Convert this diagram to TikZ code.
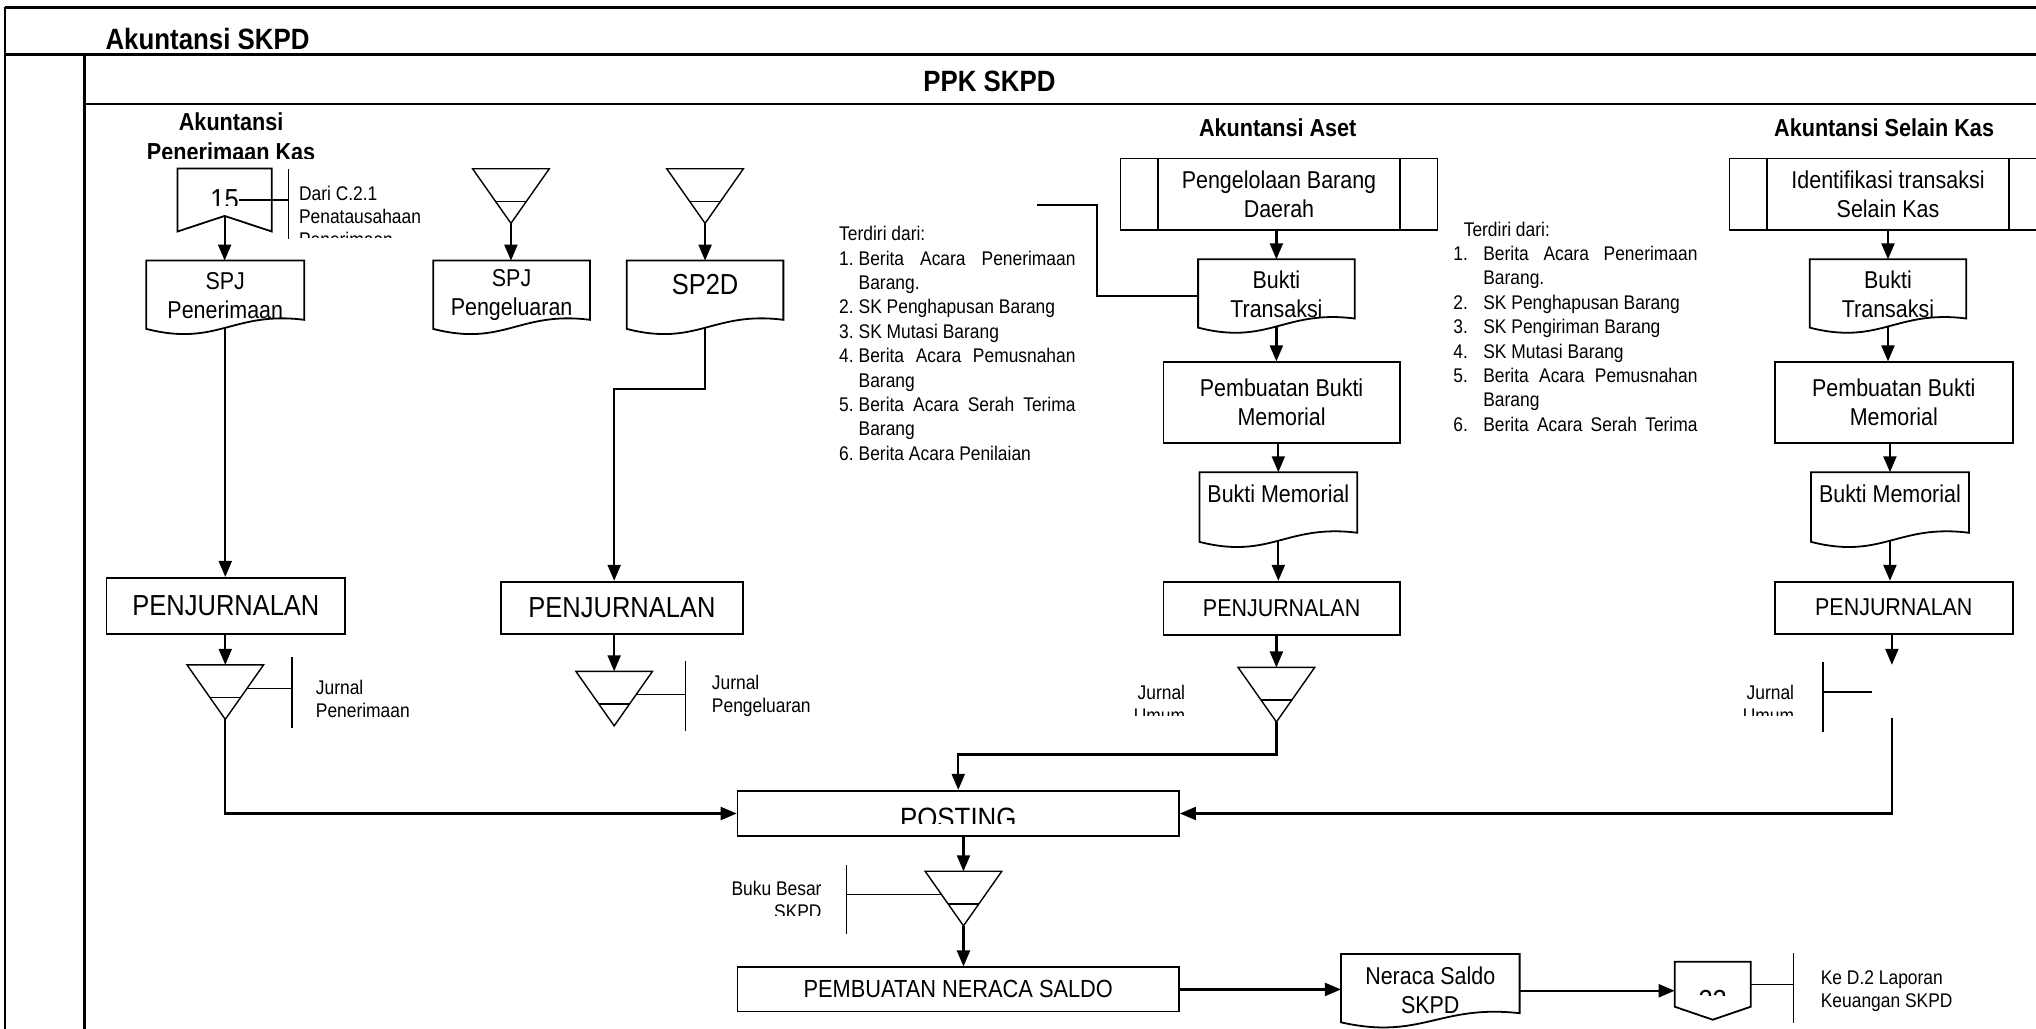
\documentclass[tikz,border=0pt]{standalone}
\usepackage{fontspec}
\setmainfont[FakeStretch=0.88]{Liberation Sans}
\usetikzlibrary{arrows.meta,calc,fit}

\newcommand\hurufjudul{\fontsize{14.7}{17}\selectfont\bfseries}
\newcommand\hurufkepala{\fontsize{12.3}{15}\selectfont\bfseries}
\newcommand\hurufkotak{\fontsize{12.2}{14.5}\selectfont}
\newcommand\hurufbesar{\fontsize{14.5}{17}\selectfont}
\newcommand\hurufkecil{\fontsize{9.9}{11.5}\selectfont}
\newcommand\hurufdaftar{\fontsize{9.9}{12.2}\selectfont}
\newcommand\butir[2]{\makebox[#1][l]{#2}}
\newcommand\rata[2]{\makebox[#1][s]{#2}}

\newcommand\dokumen[3][4]{%
  \draw[bentuk] (#2.north west) -- (#2.north east) -- (#2.south east)
    .. controls ($(#2.south west)!0.55!(#2.south east)+(0,-7)$)
    and ($(#2.south west)!0.45!(#2.south east)+(0,21)$) .. ($(#2.south west)+(0,7)$) -- cycle;
  \coordinate (#2-b) at ($(#2.south)+(0,6)$);
  \begin{scope}
    \clip (#2.north west) rectangle (#2.south east);
    \node (#2-t) at ($(#2.center)+(0,#1)$) {#3};
  \end{scope}}

\newcommand\subproses[1]{%
  \draw[bentuk] ($(#1.north west)+(29.5,0)$) -- ($(#1.south west)+(29.5,0)$);
  \draw[bentuk] ($(#1.north east)+(-29.5,0)$) -- ($(#1.south east)+(-29.5,0)$);}

\newcommand\simpan[3]{%
  \coordinate (#1) at (#2,#3);
  \coordinate (#1-apex) at (#2,#3+42);
  \coordinate (#1-l) at (#2-29.5,#3);
  \coordinate (#1-r) at (#2+29.5,#3);
  \coordinate (#1-el) at ($(#1-l)!0.43!(#1-apex)$);
  \coordinate (#1-er) at ($(#1-r)!0.43!(#1-apex)$);
  \draw[segitiga] (#1-l) -- (#1-r) -- (#1-apex) -- cycle;
  \draw[segitiga] ($(#1-l)!0.6!(#1-apex)$) -- ($(#1-r)!0.6!(#1-apex)$);}

\begin{document}
\begin{tikzpicture}[x=0.65pt, y=-0.65pt,
  every node/.style = {inner sep=0pt, align=center, font=\hurufkotak},
  kotak/.style = {draw, line width=0.9pt},
  ukuran/.style 2 args = {minimum width=#1*0.65pt, minimum height=#2*0.65pt},
  bentuk/.style = {line width=0.9pt},
  segitiga/.style = {line width=0.7pt},
  garis/.style = {line width=1.1pt},
  panah/.style = {garis, -{Triangle[length=8pt,width=6.5pt]}},
  tipis/.style = {line width=0.7pt},
  bingkai/.style = {line width=1.3pt},
  judul/.style = {font=\hurufjudul},
  kepala/.style = {font=\hurufkepala},
  besar/.style = {font=\hurufbesar},
  kecil/.style = {font=\hurufkecil},
  daftar/.style = {font=\hurufdaftar, align=left}]

  \useasboundingbox (0,0) rectangle (1568,792);
  \clip (0,0) rectangle (1568,792);

  \draw[bingkai] (4,5.6) -- (1580,5.6);
  \draw[bingkai] (4,5.6) -- (4,800);
  \draw[bingkai] (4,42) -- (1580,42);
  \draw[bingkai] (65,42) -- (65,800);
  \draw[bingkai] (65,80) -- (1580,80);
  \node[judul, anchor=west] (tskpd) at (81,30) {Akuntansi SKPD};
  \node[judul] (tppk) at (762,63) {PPK SKPD};

  \begin{scope}
    \clip (100,82) rectangle (260,122);
    \node[kepala] (hkas) at (178,105.5) {Akuntansi\\Penerimaan Kas};
  \end{scope}
  \node[kepala] (haset) at (984,98.5) {Akuntansi Aset};
  \node[kepala] (hlain) at (1451,98.5) {Akuntansi Selain Kas};

  \node[fit={(137,130) (209,178)}] (c15) {};
  \draw[bentuk] (c15.north west) -- (c15.north east) -- (c15.south east)
    -- ($(c15.south)+(0,-12)$) coordinate (c15-n) -- (c15.south west) -- cycle;
  \begin{scope}
    \clip (137,130) rectangle (209,158);
    \node[besar, anchor=base] (t15) at (173,161.5) {15};
  \end{scope}
  \coordinate (b15) at (222,154);
  \draw[tipis] (222,130) -- (222,184);
  \draw[tipis] (t15.east |- b15) -- (b15);
  \begin{scope}
    \clip (226,128) rectangle (340,183);
    \node[kecil, anchor=west, align=left] (tdari) at (230,167) {Dari C.2.1\\Penatausahaan\\Penerimaan};
  \end{scope}

  \node[fit={(113,201) (234,246)}] (spj1) {};
  \dokumen{spj1}{SPJ\\Penerimaan}
  \node[kotak, besar, ukuran={184}{43}] (pj1) at (174,466.5) {PENJURNALAN};
  \simpan{jt1}{173.5}{512}
  \coordinate (bjt1) at (225,506);
  \draw[tipis] (bjt1) -- ++(0,55);
  \draw[tipis] (jt1-er) -- (jt1-er -| bjt1);
  \node[kecil, anchor=west, align=left] (tj1) at (243,538) {Jurnal\\Penerimaan};

  \simpan{jt2a}{393.5}{130}
  \simpan{jt2b}{543}{130}
  \node[fit={(334,201) (454,246)}] (spj2) {};
  \dokumen{spj2}{SPJ\\Pengeluaran}
  \node[fit={(483,201) (603,246)}] (sp2d) {};
  \dokumen[-4.5]{sp2d}{\hurufbesar SP2D}
  \node[kotak, besar, ukuran={186}{40}] (pj2) at (479,468) {PENJURNALAN};
  \simpan{jt2c}{473}{517}
  \coordinate (bjt2) at (528,509);
  \draw[tipis] (bjt2) -- ++(0,54);
  \draw[tipis] (jt2c-er) -- (jt2c-er -| bjt2);
  \node[kecil, anchor=west, align=left] (tj2) at (548,536) {Jurnal\\Pengeluaran};

  \node[daftar, anchor=west] (ket1) at (646,264.5) {%
    Terdiri dari:\\
    \rata{118.3pt}{\butir{9.75pt}{1.}Berita Acara Penerimaan}\\
    \hspace*{9.75pt}Barang.\\
    \butir{9.75pt}{2.}SK Penghapusan Barang\\
    \butir{9.75pt}{3.}SK Mutasi Barang\\
    \rata{118.3pt}{\butir{9.75pt}{4.}Berita Acara Pemusnahan}\\
    \hspace*{9.75pt}Barang\\
    \rata{118.3pt}{\butir{9.75pt}{5.}Berita Acara Serah Terima}\\
    \hspace*{9.75pt}Barang\\
    \butir{9.75pt}{6.}Berita Acara Penilaian};
  \node[daftar, anchor=west] (ket2) at (1119,251.5) {%
    \hspace*{5.2pt}Terdiri dari:\\
    \rata{122.2pt}{\butir{15pt}{1.}Berita Acara Penerimaan}\\
    \hspace*{15pt}Barang.\\
    \butir{15pt}{2.}SK Penghapusan Barang\\
    \butir{15pt}{3.}SK Pengiriman Barang\\
    \butir{15pt}{4.}SK Mutasi Barang\\
    \rata{122.2pt}{\butir{15pt}{5.}Berita Acara Pemusnahan}\\
    \hspace*{15pt}Barang\\
    \rata{122.2pt}{\butir{15pt}{6.}Berita Acara Serah Terima}};

  \node[kotak, ukuran={244}{55}] (pgb) at (985,149.5) {Pengelolaan Barang\\Daerah};
  \subproses{pgb}
  \node[fit={(923,200) (1043,245)}] (bt3) {};
  \dokumen{bt3}{Bukti\\Transaksi}
  \node[kotak, ukuran={182}{62}] (pbm3) at (987,310) {Pembuatan Bukti\\Memorial};
  \node[fit={(924,364) (1045,410)}] (bm3) {};
  \dokumen[-7]{bm3}{Bukti Memorial}
  \node[kotak, ukuran={182}{41}] (pj3) at (987,468.5) {PENJURNALAN};
  \simpan{jt3}{983}{514}
  \begin{scope}
    \clip (850,515) rectangle (930,551);
    \node[kecil, anchor=east, align=right] (tj3) at (913,542) {Jurnal\\Umum};
  \end{scope}
  \coordinate (lst1) at (799,158);
  \coordinate (lk1) at (845,228);

  \node[kotak, ukuran={244}{55}] (isk) at (1454,149.5) {Identifikasi transaksi\\Selain Kas};
  \subproses{isk}
  \node[fit={(1394,200) (1514,245)}] (bt4) {};
  \dokumen{bt4}{Bukti\\Transaksi}
  \node[kotak, ukuran={183}{62}] (pbm4) at (1458.5,310) {Pembuatan Bukti\\Memorial};
  \node[fit={(1395,364) (1516,410)}] (bm4) {};
  \dokumen[-7]{bm4}{Bukti Memorial}
  \node[kotak, ukuran={183}{40}] (pj4) at (1458.5,468) {PENJURNALAN};
  \coordinate (ju4) at (1457,512);
  \coordinate (ju4b) at (1457,553);
  \coordinate (ju4e) at (1442,533);
  \coordinate (bju4) at (1404,510);
  \draw[tipis] (bju4) -- ++(0,54);
  \draw[tipis] (ju4e) -- (ju4e -| bju4);
  \begin{scope}
    \clip (1320,515) rectangle (1400,551);
    \node[kecil, anchor=east, align=right] (tj4) at (1382,542) {Jurnal\\Umum};
  \end{scope}

  \node[kotak, fit={(568,609) (908,644)}] (post) {};
  \begin{scope}
    \clip (568,609) rectangle (908,634);
    \node[font=\fontsize{14.7}{17}\selectfont, anchor=base] (post-t) at (738,638) {POSTING};
  \end{scope}
  \simpan{jtp}{742}{671}
  \coordinate (bjtp) at (652,666);
  \draw[tipis] (bjtp) -- ++(0,53);
  \draw[tipis] (jtp-el) -- (jtp-el -| bjtp);
  \begin{scope}
    \clip (560,660) rectangle (645,705);
    \node[kecil, anchor=east, align=right] (tbb) at (633,693) {Buku Besar\\SKPD};
  \end{scope}
  \node[kotak, ukuran={340}{34}, font=\fontsize{12.4}{15}\selectfont] (pns) at (738,762) {PEMBUATAN NERACA SALDO};
  \node[fit={(1033,735) (1170,780)}] (ns) {};
  \dokumen[5.5]{ns}{Neraca Saldo\\SKPD}
  \node[fit={(1290,741) (1348,775)}] (c22) {};
  \draw[bentuk] (c22.north west) -- (c22.north east) -- (c22.south east)
    -- ($(c22.south)+(0,10)$) -- (c22.south west) -- cycle;
  \begin{scope}
    \clip (1290,741) rectangle (1348,767);
    \node[besar, anchor=base] (t22) at (1319,778.5) {22};
  \end{scope}
  \coordinate (b22) at (1381,734);
  \draw[tipis] (b22) -- ++(0,54);
  \draw[tipis] (c22.east) -- (c22.east -| b22);
  \node[kecil, anchor=west, align=left] (tke) at (1402,763.5) {Ke D.2 Laporan\\Keuangan SKPD};
  \coordinate (nsr) at ($(ns.east)+(0,5.5)$);

  \draw[panah] (c15-n) -- (c15-n |- spj1.north);
  \draw[panah] (spj1-b) -- (spj1-b |- pj1.north);
  \draw[panah] (jt1 |- pj1.south) -- (jt1);
  \draw[panah] (jt1-apex) |- (post.west);
  \draw[panah] (jt2a-apex) -- (jt2a-apex |- spj2.north);
  \draw[panah] (jt2b-apex) -- (jt2b-apex |- sp2d.north);
  \draw[panah] (sp2d-b) -- ++(0,47) -| ($(pj2.north)+(-6,0)$);
  \draw[panah] (jt2c |- pj2.south) -- (jt2c);
  \draw[garis] (lst1) -| (lk1) -- (lk1 -| bt3.west);
  \draw[panah] (bt3.north |- pgb.south) -- (bt3.north);
  \draw[panah] (bt3-b) -- (bt3-b |- pbm3.north);
  \draw[panah] (bm3.north |- pbm3.south) -- (bm3.north);
  \draw[panah] (bm3-b) -- (bm3-b |- pj3.north);
  \draw[panah] (jt3 |- pj3.south) -- (jt3);
  \draw[panah] (jt3-apex) -- ++(0,25) -| (post.north);
  \draw[panah] (bt4.north |- isk.south) -- (bt4.north);
  \draw[panah] (bt4-b) -- (bt4-b |- pbm4.north);
  \draw[panah] (bm4.north |- pbm4.south) -- (bm4.north);
  \draw[panah] (bm4-b) -- (bm4-b |- pj4.north);
  \draw[panah] (ju4 |- pj4.south) -- (ju4);
  \draw[panah] (ju4b) |- (post.east);
  \draw[panah] (jtp |- post.south) -- (jtp);
  \draw[panah] (jtp-apex) -- (jtp-apex |- pns.north);
  \draw[panah] (pns.east) -- (pns.east -| ns.west);
  \draw[panah] (nsr) -- (nsr -| c22.west);
\end{tikzpicture}
\end{document}
